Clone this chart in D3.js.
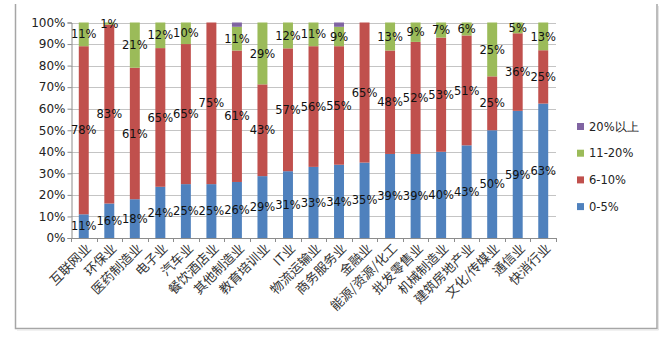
<!DOCTYPE html>
<html>
<head>
<meta charset="utf-8">
<script src="https://cdn.jsdelivr.net/npm/d3@7/dist/d3.min.js"></script>
<style>
  html, body { margin: 0; padding: 0; background: #fff; }
  svg { display: block; }
</style>
</head>
<body>
<svg id="chart" width="671" height="338"></svg>
<script>
// Industries along the x axis
const categories = [
  "互联网业", "环保业", "医药制造业", "电子业", "汽车业", "餐饮酒店业",
  "其他制造业", "教育培训业", "IT业", "物流运输业", "商务服务业", "金融业",
  "能源/资源/化工", "批发零售业", "机械制造业", "建筑房地产业",
  "文化/传媒业", "通信业", "快消行业"
];

// Share of respondents per bracket (percent)
const s0to5   = [11, 16, 18, 24, 25, 25, 26, 29, 31, 33, 34, 35, 39, 39, 40, 43, 50, 59, 63];
const s6to10  = [78, 83, 61, 65, 65, 75, 61, 43, 57, 56, 55, 65, 48, 52, 53, 51, 25, 36, 25];
const s11to20 = [11,  1, 21, 12, 10,  0, 11, 29, 12, 11,  9,  0, 13,  9,  7,  6, 25,  5, 13];
const s20plus = [ 0,  0,  0,  0,  0,  0,  2,  0,  0,  0,  2,  0,  0,  0,  0,  0,  0,  0,  0];

const seriesNames = ["0-5%", "6-10%", "11-20%", "20%以上"];
const seriesValues = [s0to5, s6to10, s11to20, s20plus];
const seriesColors = ["#4F81BD", "#C0504D", "#9BBB59", "#8064A2"];

const yTicks = [0, 0.1, 0.2, 0.3, 0.4, 0.5, 0.6, 0.7, 0.8, 0.9, 1.0];

const rows = categories.map((c, i) => {
  const r = { cat: c };
  seriesNames.forEach((s, k) => { r[s] = seriesValues[k][i]; });
  return r;
});

const stacked = d3.stack()
  .keys(seriesNames)
  .offset(d3.stackOffsetExpand)(rows);

const svg = d3.select("#chart");
const plot = { left: 71, right: 556, top: 22.5, bottom: 238 };

const x = d3.scaleBand()
  .domain(categories)
  .range([plot.left, plot.right])
  .paddingInner(0.61)
  .paddingOuter(0.305);

const y = d3.scaleLinear().domain([0, 1]).range([plot.bottom, plot.top]);

// Outer frame
svg.append("path")
  .attr("d", "M15.5,4 V328.5 H657 V4")
  .attr("fill", "none")
  .attr("stroke", "#a6a6a6")
  .attr("stroke-width", 1.5);
svg.append("path")
  .attr("d", "M17,330 H658.5 V6")
  .attr("fill", "none")
  .attr("stroke", "#e4e4e4")
  .attr("stroke-width", 1);

// Horizontal gridlines
svg.append("g")
  .selectAll("line")
  .data(yTicks.slice(1))
  .join("line")
  .attr("x1", plot.left).attr("x2", plot.right)
  .attr("y1", d => Math.round(y(d)) + 0.5).attr("y2", d => Math.round(y(d)) + 0.5)
  .attr("stroke", "#c4c4c4")
  .attr("stroke-width", 1);

// Y axis
const yAxis = svg.append("g")
  .attr("transform", `translate(${plot.left + 0.5},0)`)
  .call(d3.axisLeft(y).tickValues(yTicks).tickFormat(d3.format(".0%")).tickSize(4).tickPadding(2));
yAxis.select(".domain").attr("stroke", "#8c8c8c");
yAxis.selectAll(".tick line").attr("stroke", "#8c8c8c");
yAxis.selectAll(".tick text")
  .attr("font-family", "DejaVu Sans, Verdana, sans-serif")
  .attr("font-size", "12px")
  .attr("fill", "#222");

// Bars
const layers = svg.append("g")
  .selectAll("g")
  .data(stacked)
  .join("g")
  .attr("fill", (d, i) => seriesColors[i]);

layers.selectAll("rect")
  .data(d => d.filter(p => p[1] - p[0] > 0))
  .join("rect")
  .attr("x", d => x(d.data.cat))
  .attr("width", x.bandwidth())
  .attr("y", d => y(d[1]))
  .attr("height", d => y(d[0]) - y(d[1]));

// X axis line with ticks between categories
const step = x.step();
const xg = svg.append("g");
xg.append("line")
  .attr("x1", plot.left).attr("x2", plot.right)
  .attr("y1", plot.bottom + 0.5).attr("y2", plot.bottom + 0.5)
  .attr("stroke", "#8c8c8c");
xg.selectAll("line.tk")
  .data(d3.range(categories.length + 1))
  .join("line")
  .attr("class", "tk")
  .attr("x1", i => Math.round(plot.left + i * step) + 0.5)
  .attr("x2", i => Math.round(plot.left + i * step) + 0.5)
  .attr("y1", plot.bottom)
  .attr("y2", plot.bottom + 4)
  .attr("stroke", "#8c8c8c");

// Category labels, rotated
xg.selectAll("text")
  .data(categories)
  .join("text")
  .attr("transform", d => {
    const cx = x(d) + x.bandwidth() / 2 + 5;
    return `translate(${cx},${plot.bottom + 8}) rotate(-45)`;
  })
  .attr("text-anchor", "end")
  .attr("dy", "0.35em")
  .attr("font-family", "Noto Sans CJK SC, sans-serif")
  .attr("font-size", "13px")
  .attr("fill", "#333")
  .text(d => d);

// Data labels (first three brackets)
const labelLayers = svg.append("g")
  .selectAll("g")
  .data(stacked.slice(0, 3))
  .join("g");

labelLayers.selectAll("text")
  .data((d, k) => d.map((p, i) => ({ p, v: seriesValues[k][i] })).filter(o => o.v > 0))
  .join("text")
  .attr("x", o => x(o.p.data.cat) + x.bandwidth() / 2)
  .attr("y", o => (y(o.p[0]) + y(o.p[1])) / 2)
  .attr("dy", "0.36em")
  .attr("text-anchor", "middle")
  .attr("font-family", "DejaVu Sans, Verdana, sans-serif")
  .attr("font-size", "11.5px")
  .attr("fill", "#111")
  .text(o => o.v + "%");

// Legend, top item is the last series
const legend = svg.append("g")
  .selectAll("g")
  .data(seriesNames.slice().reverse())
  .join("g")
  .attr("transform", (d, i) => `translate(577,${126.5 + i * 26.7})`);
legend.append("rect")
  .attr("x", 0).attr("y", -3.5)
  .attr("width", 7).attr("height", 7)
  .attr("fill", d => seriesColors[seriesNames.indexOf(d)]);
legend.append("text")
  .attr("x", 12)
  .attr("dy", "0.36em")
  .attr("font-family", "DejaVu Sans, Verdana, sans-serif")
  .attr("font-size", "11.5px")
  .attr("fill", "#222")
  .text(d => d);
</script>
</body>
</html>
